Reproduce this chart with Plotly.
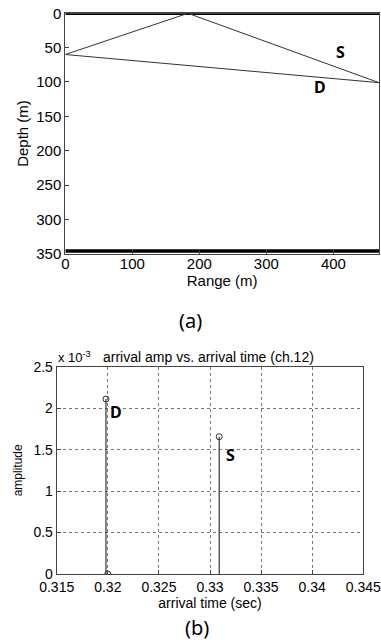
import plotly.graph_objects as go

# ---- data: (a) ray geometry ----
range_max = 468
source_depth = 60
receiver_depth = 101
reflect_range = 183
bottom_depth = 346
surface_range = [0, 468]
direct_x = [0, range_max]
direct_y = [source_depth, receiver_depth]
surf_x = [0, reflect_range, range_max]
surf_y = [source_depth, 0, receiver_depth]
labels_a = ["S", "D"]
labels_a_x = [410, 380]
labels_a_y = [57, 107]

# ---- data: (b) arrivals ----
arr_time = [0.31982, 0.3200, 0.3309]
arr_amp = [2.11e-3, 0.0, 1.655e-3]
labels_b = ["D", "S"]
labels_b_x = [0.3208, 0.33196]
labels_b_y = [1.95e-3, 1.44e-3]
xt_b = [0.315, 0.32, 0.325, 0.33, 0.335, 0.34, 0.345]
yt_b = [0, 0.5e-3, 1e-3, 1.5e-3, 2e-3, 2.5e-3]
yt_b_text = ["0", "0.5", "1", "1.5", "2", "2.5"]

W, H = 381, 643
FONT = "Liberation Sans, Arial, sans-serif"

fig = go.Figure()

# (a)
fig.add_trace(go.Scatter(x=surface_range, y=[0, 0], mode="lines",
                         line=dict(color="black", width=3.5), xaxis="x", yaxis="y", showlegend=False))
fig.add_trace(go.Scatter(x=surface_range, y=[bottom_depth, bottom_depth], mode="lines",
                         line=dict(color="black", width=3.5), xaxis="x", yaxis="y", showlegend=False))
fig.add_trace(go.Scatter(x=surf_x, y=surf_y, mode="lines",
                         line=dict(color="#333", width=1), xaxis="x", yaxis="y", showlegend=False))
fig.add_trace(go.Scatter(x=direct_x, y=direct_y, mode="lines",
                         line=dict(color="#333", width=1), xaxis="x", yaxis="y", showlegend=False))

# (b) stems
sx, sy = [], []
for t, a in zip(arr_time, arr_amp):
    sx += [t, t, None]
    sy += [0, a, None]
fig.add_trace(go.Scatter(x=sx, y=sy, mode="lines", line=dict(color="#333", width=1.2),
                         xaxis="x2", yaxis="y2", showlegend=False))
fig.add_trace(go.Scatter(x=arr_time, y=arr_amp, mode="markers",
                         marker=dict(symbol="circle-open", size=6, color="#333", line=dict(width=1)),
                         xaxis="x2", yaxis="y2", showlegend=False))

ann = []
for t, x, y in zip(labels_a, labels_a_x, labels_a_y):
    ann.append(dict(x=x, y=y, xref="x", yref="y", text=f"<b>{t}</b>", showarrow=False,
                    xanchor="center", yanchor="middle",
                    font=dict(family="Noto Sans, sans-serif", size=16, color="black")))
for t, x, y in zip(labels_b, labels_b_x, labels_b_y):
    ann.append(dict(x=x, y=y, xref="x2", yref="y2", text=f"<b>{t}</b>", showarrow=False,
                    xanchor="center", yanchor="middle",
                    font=dict(family="Noto Sans, sans-serif", size=16, color="black")))
ann.append(dict(x=190 / W, y=1 - 321 / H, xref="paper", yref="paper", text="(a)", showarrow=False,
                xanchor="center", yanchor="middle",
                font=dict(family="Noto Sans, sans-serif", size=20, color="black")))
ann.append(dict(x=197 / W, y=1 - 627 / H, xref="paper", yref="paper", text="(b)", showarrow=False,
                xanchor="center", yanchor="middle",
                font=dict(family="Noto Sans, sans-serif", size=20, color="black")))
ann.append(dict(x=56 / W, y=1 - 357 / H, xref="paper", yref="paper", xanchor="left", yanchor="middle",
                text="x 10<sup>-3</sup>", showarrow=False,
                font=dict(family=FONT, size=13, color="black")))
ann.append(dict(x=209 / W, y=1 - 357 / H, xref="paper", yref="paper", xanchor="center", yanchor="middle",
                text="arrival amp vs. arrival time (ch.12)", showarrow=False,
                font=dict(family=FONT, size=14, color="black")))

axis_common = dict(showline=True, linecolor="#444", linewidth=1, ticks="inside", ticklen=4,
                   tickcolor="#444", zeroline=False, automargin=False)

fig.update_layout(
    width=W, height=H, margin=dict(l=0, r=0, t=0, b=0, autoexpand=False),
    paper_bgcolor="white", plot_bgcolor="white",
    font=dict(family=FONT, color="black"),
    annotations=ann,
    xaxis=dict(domain=[65.3 / W, 379 / W], range=[0, range_max], anchor="y",
               tickvals=[0, 100, 200, 300, 400], tickfont=dict(size=15), showgrid=False,
               ticklabelstandoff=-4,
               mirror=True, title=dict(text="Range (m)", font=dict(size=15), standoff=0),
               **axis_common),
    yaxis=dict(domain=[1 - 253.7 / H, 1 - 13.3 / H], range=[350, 0], anchor="x",
               tickvals=[0, 50, 100, 150, 200, 250, 300, 350], tickfont=dict(size=15), showgrid=False,
               mirror=True, title=dict(text="Depth (m)", font=dict(size=15), standoff=4),
               **axis_common),
    xaxis2=dict(domain=[56.7 / W, 363.3 / W], range=[0.315, 0.345], anchor="y2",
                tickvals=xt_b, ticktext=[f"{v:g}" for v in xt_b], tickfont=dict(size=14),
                ticklabeloverflow="allow",
                showgrid=True, gridcolor="#777", griddash="dot", gridwidth=1, mirror=True,
                title=dict(text="arrival time (sec)", font=dict(size=14), standoff=0),
                **axis_common),
    yaxis2=dict(domain=[1 - 574 / H, 1 - 366.7 / H], range=[0, 2.5e-3], anchor="x2",
                tickvals=yt_b, ticktext=yt_b_text, tickfont=dict(size=14),
                showgrid=True, gridcolor="#777", griddash="dot", gridwidth=1, mirror=True,
                title=dict(text="amplitude", font=dict(size=12), standoff=8),
                **axis_common),
)

fig.write_html("out.html", config={"displayModeBar": False},
               post_script="document.body.style.margin='0';document.body.style.overflow='hidden';")
